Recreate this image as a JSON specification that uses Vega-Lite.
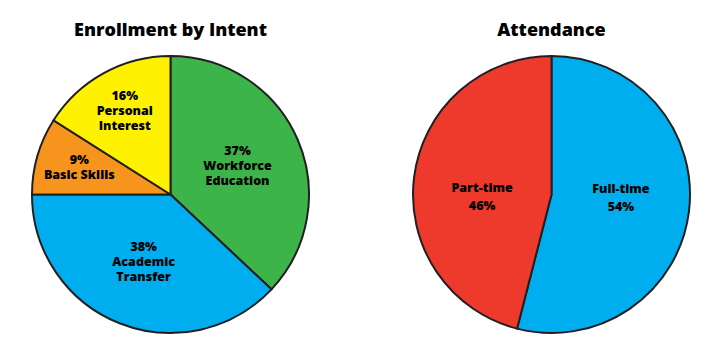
{
  "$schema": "https://vega.github.io/schema/vega-lite/v6.json",
  "background": "white",
  "autosize": {"type": "pad"},
  "padding": {"left": 28, "top": 22, "right": 0, "bottom": 0},
  "config": {
    "view": {"stroke": null},
    "concat": {"spacing": 96},
    "title": {"font": "Open Sans", "fontSize": 18, "fontWeight": 800, "color": "#000000", "anchor": "middle", "offset": 12}
  },
  "datasets": {
    "intent": [
      {"category": "Workforce Education", "pct": 37, "label": "37%\nWorkforce\nEducation", "order": 1},
      {"category": "Academic Transfer", "pct": 38, "label": "38%\nAcademic\nTransfer", "order": 2},
      {"category": "Basic Skills", "pct": 9, "label": "9%\nBasic Skills", "order": 3},
      {"category": "Personal Interest", "pct": 16, "label": "16%\nPersonal\nInterest", "order": 4}
    ],
    "attendance": [
      {"category": "Full-time", "pct": 54, "label": "Full-time\n54%", "order": 1},
      {"category": "Part-time", "pct": 46, "label": "Part-time\n46%", "order": 2}
    ]
  },
  "resolve": {"scale": {"color": "independent", "theta": "independent"}},
  "hconcat": [
    {
      "width": 277,
      "height": 277,
      "title": "Enrollment by Intent",
      "data": {"name": "intent"},
      "encoding": {
        "theta": {"field": "pct", "type": "quantitative", "stack": true},
        "order": {"field": "order", "type": "quantitative"}
      },
      "layer": [
        {
          "mark": {"type": "arc", "stroke": "#231f20", "strokeWidth": 2},
          "encoding": {
            "color": {
              "field": "category",
              "type": "nominal",
              "scale": {
                "domain": ["Workforce Education", "Academic Transfer", "Basic Skills", "Personal Interest"],
                "range": ["#3cb44a", "#00aeef", "#f7941d", "#fff200"]
              },
              "legend": null
            }
          }
        },
        {
          "mark": {
            "type": "text",
            "radius": {"expr": "datum.pct < 20 ? 95 : 73"},
            "dy": {"expr": "datum.pct == 9 ? -7.5 : -15"},
            "font": "Open Sans",
            "fontSize": 12.5,
            "fontWeight": 800,
            "lineHeight": 15,
            "lineBreak": "\n",
            "align": "center",
            "baseline": "middle",
            "color": "#000000"
          },
          "encoding": {"text": {"field": "label"}}
        }
      ]
    },
    {
      "width": 277,
      "height": 277,
      "title": "Attendance",
      "data": {"name": "attendance"},
      "encoding": {
        "theta": {"field": "pct", "type": "quantitative", "stack": true},
        "order": {"field": "order", "type": "quantitative"}
      },
      "layer": [
        {
          "mark": {"type": "arc", "stroke": "#231f20", "strokeWidth": 2},
          "encoding": {
            "color": {
              "field": "category",
              "type": "nominal",
              "scale": {"domain": ["Full-time", "Part-time"], "range": ["#00aeef", "#ee3a2c"]},
              "legend": null
            }
          }
        },
        {
          "mark": {
            "type": "text",
            "radius": 70,
            "dy": {"expr": "datum.pct > 50 ? -14.5 : 2.5"},
            "font": "Open Sans",
            "fontSize": 12.5,
            "fontWeight": 800,
            "lineHeight": 18,
            "lineBreak": "\n",
            "align": "center",
            "baseline": "middle",
            "color": "#000000"
          },
          "encoding": {"text": {"field": "label"}}
        }
      ]
    }
  ]
}
